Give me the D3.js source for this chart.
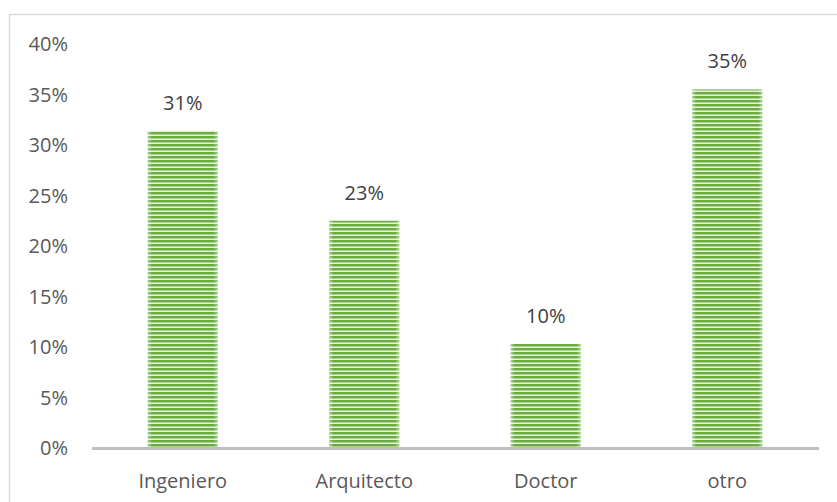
<!DOCTYPE html>
<html>
<head>
<meta charset="utf-8">
<script src="https://cdn.jsdelivr.net/npm/d3@7"></script>
<style>
  body { margin: 0; background: #fff; }
  svg { display: block; font-family: "Open Sans", Lato, sans-serif; }
</style>
</head>
<body>
<svg id="chart" width="837" height="502"></svg>
<script>
const categories = ["Ingeniero", "Arquitecto", "Doctor", "otro"];
const values = [0.314, 0.225, 0.103, 0.355];
const valueLabels = ["31%", "23%", "10%", "35%"];
const yTicks = [0, 0.05, 0.1, 0.15, 0.2, 0.25, 0.3, 0.35, 0.4];

const width = 837;
const height = 502;
const svg = d3.select("#chart");

// chart frame
svg.append("rect")
  .attr("x", 9.5)
  .attr("y", 14.5)
  .attr("width", 900)
  .attr("height", 600)
  .attr("fill", "#fff")
  .attr("stroke", "#d9d9d9")
  .attr("stroke-width", 1.5);

// striped fill
const defs = svg.append("defs");
const pat = defs.append("pattern")
  .attr("id", "stripes")
  .attr("patternUnits", "userSpaceOnUse")
  .attr("width", 8)
  .attr("height", 4);
pat.append("rect").attr("width", 8).attr("height", 4).attr("fill", "#6cab42");
pat.append("rect").attr("y", 2).attr("width", 8).attr("height", 1).attr("fill", "#a9d18e");
pat.append("rect").attr("y", 3).attr("width", 8).attr("height", 1).attr("fill", "#e6f2de");

const edge = defs.append("linearGradient").attr("id", "edge");
edge.append("stop").attr("offset", "0%").attr("stop-color", "#fff").attr("stop-opacity", 0.45);
edge.append("stop").attr("offset", "6%").attr("stop-color", "#fff").attr("stop-opacity", 0);
edge.append("stop").attr("offset", "94%").attr("stop-color", "#fff").attr("stop-opacity", 0);
edge.append("stop").attr("offset", "100%").attr("stop-color", "#fff").attr("stop-opacity", 0.45);

const x = d3.scaleBand()
  .domain(categories)
  .range([92, 818])
  .paddingInner(0.614)
  .paddingOuter(0.307);

const y = d3.scaleLinear()
  .domain([0, 0.4])
  .range([448, 44]);

// y labels
svg.append("g")
  .selectAll("text")
  .data(yTicks)
  .join("text")
  .attr("x", 68)
  .attr("y", d => y(d))
  .attr("dy", "0.35em")
  .attr("text-anchor", "end")
  .attr("fill", "#595959")
  .attr("font-size", 20)
  .text(d3.format(".0%"));

// bars
const bars = svg.append("g")
  .selectAll("g")
  .data(categories)
  .join("g");

bars.append("rect")
  .attr("x", d => x(d))
  .attr("y", (d, i) => y(values[i]))
  .attr("width", x.bandwidth())
  .attr("height", (d, i) => y(0) - y(values[i]))
  .attr("fill", "url(#stripes)");

bars.append("rect")
  .attr("x", d => x(d))
  .attr("y", (d, i) => y(values[i]))
  .attr("width", x.bandwidth())
  .attr("height", (d, i) => y(0) - y(values[i]))
  .attr("fill", "url(#edge)");

// value labels
bars.append("text")
  .attr("x", d => x(d) + x.bandwidth() / 2)
  .attr("y", (d, i) => y(values[i]) - 28)
  .attr("dy", "0.35em")
  .attr("text-anchor", "middle")
  .attr("fill", "#404040")
  .attr("font-size", 20)
  .text((d, i) => valueLabels[i]);

// x axis line
svg.append("line")
  .attr("x1", 92)
  .attr("x2", 819)
  .attr("y1", 448.5)
  .attr("y2", 448.5)
  .attr("stroke", "#bfbfbf")
  .attr("stroke-width", 3);

// category labels
svg.append("g")
  .selectAll("text")
  .data(categories)
  .join("text")
  .attr("x", d => x(d) + x.bandwidth() / 2)
  .attr("y", 481)
  .attr("dy", "0.35em")
  .attr("text-anchor", "middle")
  .attr("fill", "#595959")
  .attr("font-size", 20)
  .text(d => d);
</script>
</body>
</html>
